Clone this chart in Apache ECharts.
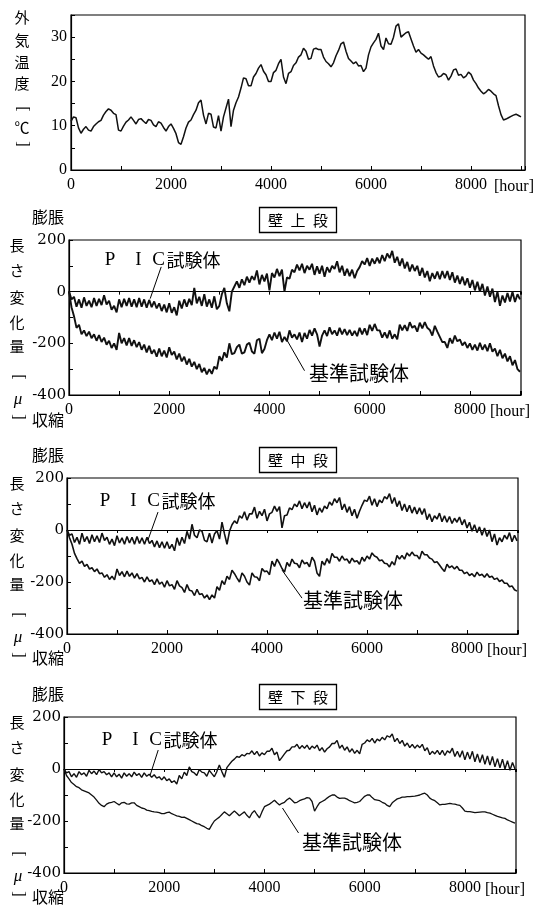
<!DOCTYPE html>
<html>
<head>
<meta charset="utf-8">
<script src="https://cdn.jsdelivr.net/npm/echarts@6/dist/echarts.min.js"></script>
<style>
html, body { margin: 0; padding: 0; background: #fff; }
#chart { width: 537px; height: 912px; }
</style>
</head>
<body>
<div id="chart"></div>
<script>
// 経過時間 [hour]（50時間ごと）
const hours = [
  0, 50, 100, 150, 200, 250, 300, 350, 400, 450,
  500, 550, 600, 650, 700, 750, 800, 850, 900, 950,
  1000, 1050, 1100, 1150, 1200, 1250, 1300, 1350, 1400, 1450,
  1500, 1550, 1600, 1650, 1700, 1750, 1800, 1850, 1900, 1950,
  2000, 2050, 2100, 2150, 2200, 2250, 2300, 2350, 2400, 2450,
  2500, 2550, 2600, 2650, 2700, 2750, 2800, 2850, 2900, 2950,
  3000, 3050, 3100, 3150, 3200, 3250, 3300, 3350, 3400, 3450,
  3500, 3550, 3600, 3650, 3700, 3750, 3800, 3850, 3900, 3950,
  4000, 4050, 4100, 4150, 4200, 4250, 4300, 4350, 4400, 4450,
  4500, 4550, 4600, 4650, 4700, 4750, 4800, 4850, 4900, 4950,
  5000, 5050, 5100, 5150, 5200, 5250, 5300, 5350, 5400, 5450,
  5500, 5550, 5600, 5650, 5700, 5750, 5800, 5850, 5900, 5950,
  6000, 6050, 6100, 6150, 6200, 6250, 6300, 6350, 6400, 6450,
  6500, 6550, 6600, 6650, 6700, 6750, 6800, 6850, 6900, 6950,
  7000, 7050, 7100, 7150, 7200, 7250, 7300, 7350, 7400, 7450,
  7500, 7550, 7600, 7650, 7700, 7750, 7800, 7850, 7900, 7950,
  8000, 8050, 8100, 8150, 8200, 8250, 8300, 8350, 8400, 8450,
  8500, 8550, 8600, 8650, 8700, 8750, 8800, 8850, 8900, 8950,
  9000
];

// 外気温度 [℃]
const tempValues = [
  11, 12, 11.8, 9.5, 8.3, 9.2, 9.8, 9.0, 8.8, 9.8,
  10.4, 10.9, 11.2, 12.4, 13.2, 13.8, 13.5, 12.8, 12.5, 9.0,
  8.8, 9.9, 10.8, 11.3, 12, 11.2, 10.4, 11.4, 11.6, 11.0,
  10.5, 11.4, 11.2, 10.2, 9.8, 10.9, 10.6, 9.6, 8.8, 9.8,
  10.4, 9.4, 8.2, 6.2, 5.8, 7.5, 9.5, 10.8, 11.3, 12.5,
  13.5, 15.2, 15.8, 12.4, 10.4, 12.8, 12.6, 9.7, 9.5, 12.3,
  8.8, 12.0, 14, 16, 9.8, 13.5, 15.2, 16.5, 18.5, 20.8,
  20.6, 19.0, 19, 21.0, 21.8, 23.0, 23.8, 22.3, 21.5, 20.0,
  20, 22.0, 22.5, 24.0, 25, 21.0, 19.5, 21.8, 22.2, 23.6,
  24.2, 25.5, 26, 27.5, 26.8, 25.0, 25.2, 27.3, 27.5, 27.2,
  27.2, 25.5, 24.5, 24.0, 23.3, 24.2, 25.8, 27.0, 28.5, 28.9,
  26.8, 25.2, 24.6, 24.0, 24.4, 23.5, 23.6, 22.2, 23, 26.0,
  27.8, 28.7, 29.5, 30.9, 28, 27.2, 29.8, 28.5, 28.4, 30.0,
  32.5, 33.0, 30, 30.5, 31, 31.2, 29.6, 28.0, 26.6, 27.2,
  26.4, 26.0, 25.5, 25.0, 25.6, 23.5, 22, 21.0, 21.2, 21.8,
  21.5, 20.3, 21.2, 22.6, 22.8, 21.4, 21.6, 20.8, 21.2, 22.1,
  21.6, 20.3, 19.5, 18.5, 17.8, 17.2, 17.6, 18.2, 17.8, 17.2,
  16.8, 14.5, 12.5, 11.3, 11.5, 11.8, 12.1, 12.4, 12.6, 12.3,
  12
];

// 壁上段 長さ変化量 [μ]
const upperPic = [
  0, -30, -20, -58, -30, -62, -22, -55, -35, -60,
  -25, -55, -28, -52, -14, -50, -35, -70, -55, -80,
  -30, -60, -28, -55, -25, -58, -30, -60, -25, -58,
  -30, -62, -32, -60, -38, -65, -45, -75, -50, -80,
  -45, -82, -60, -92, -35, -65, -30, -58, -28, -52,
  15, -45, -20, -55, -10, -58, -30, -62, -18, -68,
  -55, -10, 15, -45, -76, 0, 20, 40, 15, 48,
  25, 58, 35, 60, 45, 82, 28, 65, 40, 70,
  5, 72, 55, 88, 60, 85, 0, 55, 50, 85,
  75, 105, 82, 108, 72, 100, 85, 108, 65, 98,
  70, 100, 58, 95, 75, 100, 88, 118, 75, 100,
  62, 88, 60, 85, 52, 80, 95, 118, 105, 130,
  100, 128, 108, 132, 110, 142, 118, 148, 130, 158,
  112, 135, 100, 128, 90, 115, 78, 105, 80, 100,
  62, 92, 55, 80, 40, 72, 50, 78, 48, 80,
  52, 80, 45, 75, 35, 62, 30, 58, 25, 52,
  15, 45, 5, 38, 0, 30, -15, 20, -20, 12,
  -40, 0, -55, -15, -42, -5, -38, 0, -40, -10,
  -30
];
const upperBase = [
  0, -60, -95, -140, -128, -165, -150, -172, -155, -180,
  -165, -190, -168, -195, -178, -205, -190, -218, -200, -225,
  -160, -200, -180, -208, -180, -210, -188, -215, -195, -225,
  -205, -235, -210, -240, -225, -252, -220, -250, -228, -255,
  -215, -245, -232, -262, -240, -270, -252, -282, -260, -290,
  -272, -300, -280, -312, -295, -320, -300, -318, -290, -300,
  -250, -268, -235, -255, -200, -242, -238, -215, -205, -240,
  -235, -205, -198, -232, -240, -188, -182, -238, -222, -188,
  -165, -188, -158, -182, -155, -195, -175, -192, -150, -178,
  -165, -185, -158, -195, -160, -182, -148, -170, -142, -165,
  -212, -170, -150, -172, -138, -165, -150, -170, -140, -165,
  -145, -168, -148, -170, -152, -172, -140, -165, -142, -168,
  -128, -152, -125, -150, -150, -178, -158, -180, -150, -182,
  -165, -185, -128, -150, -130, -152, -118, -140, -132, -155,
  -120, -142, -118, -140, -148, -170, -132, -155, -175, -195,
  -195, -218, -180, -200, -170, -192, -185, -208, -195, -218,
  -200, -225, -205, -228, -198, -225, -205, -230, -200, -232,
  -220, -250, -225, -258, -240, -270, -250, -285, -265, -300,
  -310
];

// 壁中段
const middlePic = [
  0, -20, -15, -48, -28, -55, -12, -45, -25, -52,
  -18, -45, -22, -48, -12, -40, -28, -55, -35, -60,
  -22, -50, -30, -55, -25, -50, -28, -55, -25, -52,
  -30, -55, -28, -52, -40, -65, -42, -68, -45, -70,
  -45, -72, -55, -80, -30, -60, -28, -52, -5, -35,
  22, -20, -30, 0, -5, -40, -45, -12, -50, -15,
  -2, -35, 30, -15, -55, -5, 20, 35, 25, 55,
  45, 70, 38, 62, 62, 88, 45, 72, 55, 80,
  35, 62, 68, 92, 72, 90, 8, 55, 58, 85,
  78, 100, 90, 112, 82, 105, 85, 108, 70, 95,
  58, 85, 68, 92, 82, 108, 95, 120, 105, 125,
  78, 100, 68, 90, 55, 80, 45, 72, 95, 115,
  110, 130, 95, 120, 90, 115, 105, 128, 120, 140,
  102, 125, 90, 112, 75, 100, 70, 95, 65, 88,
  62, 85, 60, 82, 40, 62, 32, 55, 42, 65,
  32, 55, 30, 52, 25, 45, 30, 50, 20, 40,
  8, 30, -5, 20, -10, 12, -20, 8, -25, 0,
  -45, -15, -58, -30, -45, -20, -35, -10, -45, -20,
  -42
];
const middleBase = [
  0, -30, -55, -90, -110, -128, -120, -140, -132, -150,
  -145, -160, -150, -168, -165, -182, -172, -190, -178, -192,
  -150, -175, -160, -180, -158, -178, -165, -185, -168, -188,
  -182, -200, -180, -198, -192, -210, -188, -208, -200, -220,
  -195, -215, -210, -228, -195, -215, -222, -240, -210, -232,
  -235, -252, -228, -248, -245, -262, -250, -268, -250, -262,
  -218, -232, -195, -210, -178, -190, -155, -168, -185, -200,
  -165, -178, -200, -212, -165, -180, -182, -195, -148, -160,
  -158, -172, -120, -140, -112, -128, -148, -162, -125, -140,
  -112, -128, -130, -145, -115, -130, -125, -142, -105, -120,
  -165, -178, -120, -135, -110, -128, -90, -105, -105, -120,
  -100, -115, -112, -128, -108, -122, -118, -132, -105, -120,
  -100, -112, -88, -100, -105, -118, -115, -128, -130, -142,
  -122, -135, -98, -112, -98, -112, -88, -100, -85, -98,
  -98, -112, -82, -95, -95, -108, -112, -125, -122, -135,
  -148, -160, -132, -145, -138, -150, -140, -155, -155, -168,
  -162, -175, -168, -180, -162, -175, -170, -182, -168, -182,
  -178, -190, -185, -198, -192, -205, -205, -218, -215, -230,
  -235
];

// 壁下段
const lowerPic = [
  0, -15, -10, -30, -18, -32, -10, -22, -15, -28,
  -5, -18, -8, -22, -2, -15, -10, -22, -15, -30,
  -15, -30, -20, -35, -15, -28, -18, -30, -12, -25,
  -18, -32, -15, -28, -20, -32, -22, -35, -30, -42,
  -30, -45, -38, -52, -45, -58, -25, -38, -12, -25,
  8, -10, -15, -25, -2, -12, -15, -28, -5, -18,
  -30, -10, 15, -10, -32, 5, 18, 30, 38, 48,
  45, 55, 50, 60, 58, 70, 55, 68, 50, 62,
  55, 68, 68, 80, 55, 65, 32, 45, 58, 70,
  72, 85, 85, 95, 78, 90, 80, 92, 75, 88,
  80, 92, 70, 82, 65, 78, 85, 98, 98, 110,
  80, 92, 72, 85, 65, 78, 60, 72, 58, 95,
  100, 112, 105, 118, 100, 115, 108, 122, 112, 128,
  122, 135, 105, 118, 98, 110, 88, 100, 82, 95,
  80, 92, 82, 95, 70, 82, 55, 68, 58, 72,
  55, 72, 52, 70, 62, 80, 48, 68, 45, 70,
  35, 65, 38, 68, 28, 58, 25, 55, 18, 50,
  15, 48, 8, 40, 5, 38, 0, 32, -5, 25,
  0
];
const lowerBase = [
  0, -25, -38, -52, -60, -68, -72, -80, -84, -88,
  -92, -100, -108, -120, -132, -140, -145, -135, -130, -128,
  -125, -132, -138, -130, -128, -134, -135, -130, -130, -140,
  -145, -150, -152, -158, -160, -163, -165, -166, -168, -172,
  -172, -168, -166, -172, -176, -180, -182, -186, -185, -190,
  -195, -200, -205, -210, -212, -218, -222, -228, -232, -215,
  -200, -192, -185, -175, -165, -172, -180, -170, -162, -170,
  -180, -172, -165, -178, -188, -170, -160, -175, -188, -165,
  -145, -140, -135, -128, -120, -130, -138, -132, -128, -118,
  -112, -120, -130, -128, -122, -118, -115, -110, -112, -125,
  -162, -145, -130, -125, -120, -112, -105, -100, -100, -108,
  -113, -112, -112, -116, -122, -126, -130, -128, -125, -115,
  -105, -100, -100, -110, -118, -120, -122, -128, -132, -140,
  -145, -130, -122, -115, -112, -108, -108, -106, -106, -105,
  -104, -102, -100, -96, -93, -100, -112, -118, -122, -130,
  -138, -136, -136, -134, -132, -134, -135, -138, -140, -150,
  -162, -164, -164, -166, -168, -167, -166, -165, -165, -168,
  -170, -174, -178, -182, -185, -188, -190, -196, -200, -204,
  -208
];

const xTickLabels = [0, 2000, 4000, 6000, 8000];

const SERIF = '"Liberation Serif", "Times New Roman", serif';
const SERIF_Y = '"DejaVu Serif", serif';
const CJK = '"Noto Sans CJK JP", sans-serif';

const grids = [
    { left: 71, top: 15, width: 454, height: 155 },
    { left: 69, top: 240, width: 452, height: 155 },
    { left: 67, top: 478, width: 451, height: 156 },
    { left: 64, top: 717, width: 452, height: 156 }
];
const xMax = [9080, 9020, 9020, 9020];

// 各段の設定（ラベル位置・引出線・線の太さ）
const panels = [
    {
        title: '壁\u2002上\u2002段', titleTop: 207, pic: upperPic, base: upperBase,
        picWidth: 1.9, baseWidth: 1.9,
        picLeader: [[1840, 96], [1620, -27]], baseLeader: [[4700, -306], [4360, -191]],
        picPos: [110, 260], basePos: [309, 373]
    },
    {
        title: '壁\u2002中\u2002段', titleTop: 447, pic: middlePic, base: middleBase,
        picWidth: 1.6, baseWidth: 1.6,
        picLeader: [[1820, 69], [1620, -38]], baseLeader: [[4700, -262], [4300, -154]],
        picPos: [105, 501], basePos: [303, 600]
    },
    {
        title: '壁\u2002下\u2002段', titleTop: 684, pic: lowerPic, base: lowerBase,
        picWidth: 1.4, baseWidth: 1.3,
        picLeader: [[1880, 73], [1720, -23]], baseLeader: [[4680, -246], [4360, -150]],
        picPos: [107, 740], basePos: [302, 842]
    }
];

function pairs(values) {
    return hours.map((h, i) => [h, values[i]]);
}

function txt(x, y, text, size, extra) {
    return {
        type: 'text', x: x, y: y, silent: true,
        style: Object.assign({
            text: text, fill: '#000', fontSize: size, fontFamily: CJK,
            align: 'center', verticalAlign: 'middle'
        }, extra || {})
    };
}

function bracket(x, y, ch) {
    let t = txt(x, y, ch, 16, { fontFamily: SERIF });
    t.rotation = -Math.PI / 2;
    return t;
}

function bottomAxis(i) {
    return {
        type: 'value', gridIndex: i, min: 0, max: xMax[i], interval: 1000,
        position: 'bottom',
        axisLine: { onZero: false, lineStyle: { color: '#000', width: 1.2 } },
        axisTick: { inside: true, length: 4, lineStyle: { color: '#000' } },
        splitLine: { show: false },
        axisLabel: {
            color: '#000', fontSize: 16, fontFamily: SERIF, margin: 7,
            formatter: v => xTickLabels.indexOf(v) >= 0 ? String(v) : ''
        },
        name: '[hour]', nameLocation: 'end', nameGap: -11,
        nameTextStyle: {
            color: '#000', fontSize: 16, fontFamily: SERIF,
            align: 'center', verticalAlign: 'top', padding: [9, 0, 0, 0]
        }
    };
}

function zeroAxis(i) {
    return {
        type: 'value', gridIndex: i, min: 0, max: xMax[i], interval: 1000,
        position: 'top',
        axisLine: { onZero: true, lineStyle: { color: '#000', width: 1.2 } },
        axisTick: { inside: true, length: 3, lineStyle: { color: '#000' } },
        axisLabel: { show: false },
        splitLine: { show: false }
    };
}

const xAxes = grids.map((g, i) => bottomAxis(i));
const yAxes = [{
    type: 'value', gridIndex: 0, min: 0, max: 35, interval: 5,
    axisLine: { show: true, lineStyle: { color: '#000', width: 1.2 } },
    axisTick: { show: true, inside: true, length: 4, lineStyle: { color: '#000' } },
    splitLine: { show: false },
    axisLabel: {
        color: '#000', fontSize: 16, fontFamily: SERIF, margin: 4,
        formatter: v => v % 10 === 0 ? String(v) : ''
    }
}];

const series = [{
    type: 'line', xAxisIndex: 0, yAxisIndex: 0, data: pairs(tempValues),
    symbol: 'none', silent: true,
    lineStyle: { color: '#111', width: 1.5 }
}];

const titles = [];
const graphics = [
    txt(22, 17, '外', 15), txt(22, 40, '気', 15), txt(22, 62, '温', 15), txt(22, 83, '度', 15),
    bracket(22, 109, '['), txt(22, 127, '℃', 15), bracket(22, 144, ']')
];

panels.forEach((p, k) => {
    const i = k + 1;
    const T = grids[i].top;
    xAxes.push(zeroAxis(i));
    yAxes.push({
        type: 'value', gridIndex: i, min: -400, max: 200, interval: 100,
        axisLine: { show: true, lineStyle: { color: '#000', width: 1.2 } },
        axisTick: { show: true, inside: true, length: 4, lineStyle: { color: '#000' } },
        splitLine: { show: false },
        axisLabel: {
            color: '#000', fontSize: 15, fontFamily: SERIF_Y, margin: 3,
            formatter: v => v % 200 === 0 ? String(v) : ''
        }
    });
    const leader = (pts) => ({
        silent: true, symbol: 'none', label: { show: false },
        lineStyle: { color: '#000', width: 1, type: 'solid' },
        data: [[{ coord: pts[0] }, { coord: pts[1] }]]
    });
    series.push({
        type: 'line', xAxisIndex: i, yAxisIndex: i, data: pairs(p.pic),
        symbol: 'none', silent: true, lineStyle: { color: '#111', width: p.picWidth },
        markLine: leader(p.picLeader)
    });
    series.push({
        type: 'line', xAxisIndex: i, yAxisIndex: i, data: pairs(p.base),
        symbol: 'none', silent: true, lineStyle: { color: '#111', width: p.baseWidth },
        markLine: leader(p.baseLeader)
    });
    titles.push({
        text: p.title, left: 259, top: p.titleTop, padding: [4, 9],
        borderColor: '#000', borderWidth: 1.3,
        textStyle: { fontFamily: CJK, fontSize: 15, fontWeight: 'normal', color: '#000', lineHeight: 18 }
    });

    // 縦書きの軸名
    graphics.push(
        txt(48, T - 23, '膨脹', 16),
        txt(17, T + 5, '長', 15), txt(17, T + 30, 'さ', 15), txt(17, T + 57, '変', 15),
        txt(17, T + 82, '化', 15), txt(17, T + 106, '量', 15),
        bracket(18, T + 137, '['),
        txt(18, T + 160, 'μ', 17, { fontFamily: SERIF, fontStyle: 'italic' }),
        bracket(18, T + 177, ']'),
        txt(48, T + 180, '収縮', 16)
    );

    // 試験体ラベル
    const [px, py] = p.picPos;
    graphics.push(
        txt(px, py, 'P', 19, { fontFamily: SERIF }),
        txt(px + 28.5, py, 'I', 19, { fontFamily: SERIF }),
        txt(px + 48.5, py, 'C', 19, { fontFamily: SERIF }),
        txt(px + 56.5, py, '試験体', 18, { align: 'left' }),
        txt(p.basePos[0], p.basePos[1], '基準試験体', 20, { align: 'left' })
    );
});

const chart = echarts.init(document.getElementById('chart'));
chart.setOption({
    animation: false,
    backgroundColor: '#fff',
    title: titles,
    grid: grids.map(g => Object.assign({ show: true, borderColor: '#000', borderWidth: 1.2, backgroundColor: 'transparent' }, g)),
    xAxis: xAxes,
    yAxis: yAxes,
    series: series,
    graphic: graphics
});
</script>
</body>
</html>
